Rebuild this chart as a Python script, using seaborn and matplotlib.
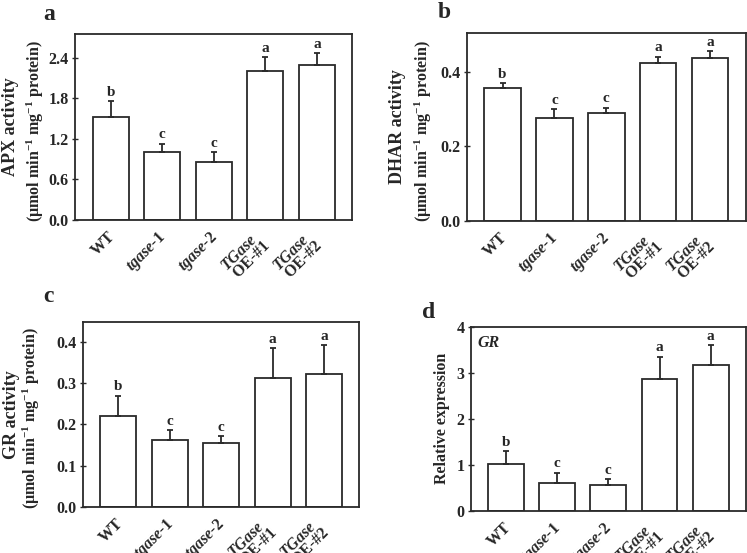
import matplotlib
matplotlib.use("Agg")
import matplotlib.pyplot as plt
import matplotlib.transforms as mtransforms
import seaborn as sns
import pandas as pd
import numpy as np

sns.set_theme(style="white")
plt.rcParams['font.family'] = ['Liberation Serif', 'DejaVu Serif']
plt.rcParams['font.weight'] = 'bold'
plt.rcParams['mathtext.fontset'] = 'custom'
plt.rcParams['mathtext.rm'] = 'Liberation Serif:bold'
plt.rcParams['mathtext.it'] = 'Liberation Serif:bold:italic'
plt.rcParams['mathtext.bf'] = 'Liberation Serif:bold'

# ---- data ----
categories = ["WT", "tgase-1", "tgase-2", "TGase OE-#1", "TGase OE-#2"]
tick_labels = ["WT", r"$tgase$-1", r"$tgase$-2", "$TGase$\n OE-#1", "$TGase$\n OE-#2"]

apx_mean = [1.52, 1.00, 0.86, 2.21, 2.29]
apx_err = [0.24, 0.13, 0.14, 0.20, 0.18]
dhar_mean = [0.358, 0.278, 0.291, 0.426, 0.439]
dhar_err = [0.012, 0.023, 0.014, 0.016, 0.017]
gr_mean = [0.220, 0.163, 0.155, 0.313, 0.322]
gr_err = [0.050, 0.024, 0.017, 0.073, 0.071]
expr_mean = [1.02, 0.61, 0.55, 2.86, 3.16]
expr_err = [0.27, 0.22, 0.14, 0.49, 0.44]
sig_letters = ["b", "c", "c", "a", "a"]

unit_label = "(µmol min$^{-1}$ mg$^{-1}$ protein)"

panels = [
    dict(letter="a", mean=apx_mean, err=apx_err, ylim=2.75, ticks=[0.0, 0.6, 1.2, 1.8, 2.4],
         fmt="{:.1f}", ylabel="APX activity", units=True, lab_dx=(-64, -40),
         rect=[75, 34, 352, 220], letter_xy=(43, 14)),
    dict(letter="b", mean=dhar_mean, err=dhar_err, ylim=0.505, ticks=[0.0, 0.2, 0.4],
         fmt="{:.1f}", ylabel="DHAR activity", units=True, lab_dx=(-69, -43),
         rect=[466.7, 33.3, 745.5, 220.7], letter_xy=(438, 12)),
    dict(letter="c", mean=gr_mean, err=gr_err, ylim=0.45, ticks=[0.0, 0.1, 0.2, 0.3, 0.4],
         fmt="{:.1f}", ylabel="GR activity", units=True, lab_dx=(-71, -51),
         rect=[82.7, 321.7, 359.3, 506.7], letter_xy=(43, 296)),
    dict(letter="d", mean=expr_mean, err=expr_err, ylim=4.0, ticks=[0, 1, 2, 3, 4],
         fmt="{:d}", ylabel="Relative expression", units=False, lab_dx=(-29, None),
         rect=[470.7, 326.7, 745.5, 510.7], letter_xy=(422, 313)),
]

W, H = 747, 553
fig = plt.figure(figsize=(W / 100, H / 100), dpi=100)
edge = "#2a2a2a"
FS = 11.5
shift = mtransforms.ScaledTranslation(8 / 100, -6 / 100, fig.dpi_scale_trans)

for p in panels:
    l, t, r, b = p["rect"]
    aw = r - l
    ax = fig.add_axes([l / W, (H - b) / H, aw / W, (b - t) / H])
    df = pd.DataFrame({"genotype": categories, "value": p["mean"]})
    sns.barplot(data=df, x="genotype", y="value", order=categories, color="white",
                edgecolor=edge, linewidth=1.3, width=0.70, errorbar=None, ax=ax,
                saturation=1)
    x = np.arange(len(categories))
    ax.errorbar(x, p["mean"], yerr=[np.zeros(len(x)), p["err"]], fmt="none",
                ecolor=edge, elinewidth=1.3, capsize=2.5, capthick=1.3)
    top = np.array(p["mean"]) + np.array(p["err"])
    for xi, yi, s in zip(x, top, sig_letters):
        ax.text(xi, yi + p["ylim"] * 0.012, s, ha="center", va="bottom",
                fontsize=11, fontweight="bold")
    ax.set_xlim(-0.69, 4.68)
    ax.set_ylim(0, p["ylim"])
    ax.tick_params(axis="x", length=0, pad=2)
    ax.tick_params(axis="y", direction="inout", length=5, width=1.0, color=edge, pad=2,
                   left=True)
    ax.set_yticks(p["ticks"])
    ax.set_yticklabels([p["fmt"].format(v) for v in p["ticks"]], fontsize=FS, fontweight="bold")
    ax.set_xticks(x)
    ax.set_xticklabels(tick_labels, fontsize=FS, fontweight="bold", rotation=45,
                       ha="right", va="top", multialignment="left", linespacing=0.8)
    for tick in ax.xaxis.get_major_ticks():
        tick.label1.set_transform(tick.label1.get_transform() + shift)
    ax.set_xlabel("")
    ax.set_ylabel("")
    main_fs = 13 if p["units"] else FS
    ax.text(p["lab_dx"][0] / aw, 0.5, p["ylabel"], transform=ax.transAxes, rotation=90,
            ha="center", va="center", fontsize=main_fs, fontweight="bold")
    if p["units"]:
        ax.text(p["lab_dx"][1] / aw, 0.48, unit_label, transform=ax.transAxes, rotation=90,
                ha="center", va="center", fontsize=FS, fontweight="bold")
    for sp in ax.spines.values():
        sp.set_visible(True)
        sp.set_color(edge)
        sp.set_linewidth(1.3)
    if p["letter"] == "d":
        ax.text(0.023, 0.955, "GR", transform=ax.transAxes, fontsize=FS,
                fontweight="bold", fontstyle="italic", ha="left", va="top")
    fig.text(p["letter_xy"][0] / W, 1 - p["letter_xy"][1] / H, p["letter"],
             fontsize=17, fontweight="bold", ha="left", va="center")

fig.savefig("out.png", dpi=100)
